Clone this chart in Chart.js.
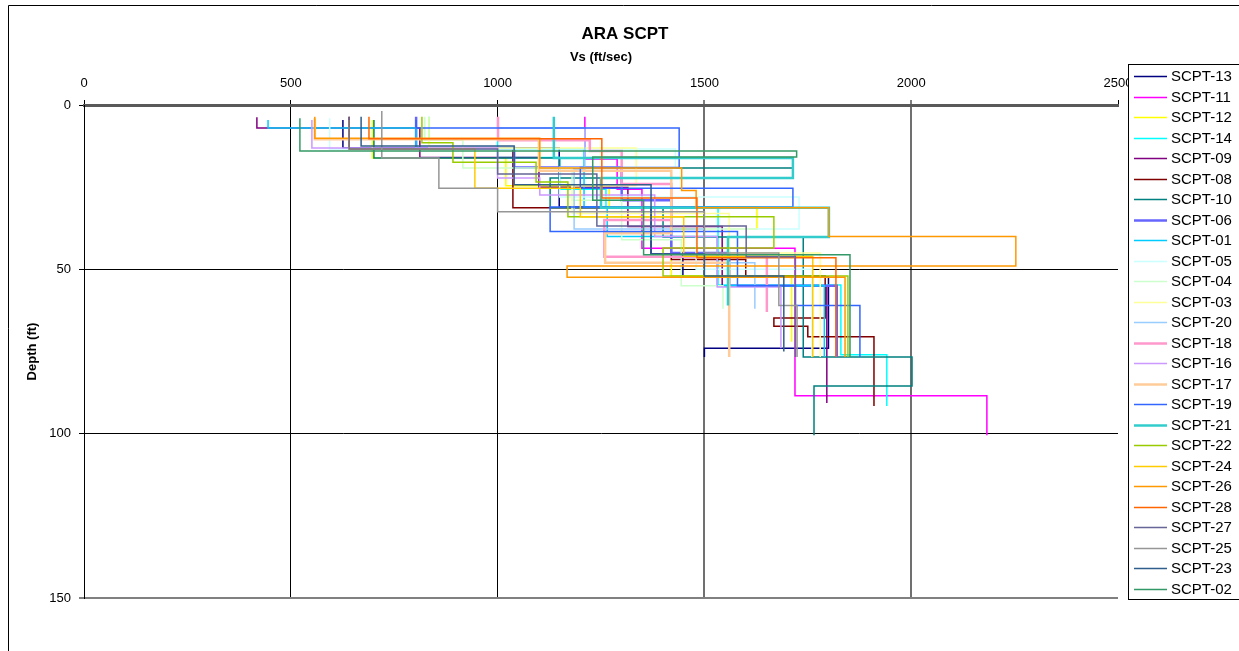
<!DOCTYPE html>
<html>
<head>
<meta charset="utf-8">
<title>ARA SCPT</title>
<script src="https://cdn.jsdelivr.net/npm/chart.js@4/dist/chart.umd.min.js"></script>
<style>
  html, body { margin: 0; padding: 0; background: #ffffff; overflow: hidden; }
  #wrap { width: 1239px; height: 651px; }
</style>
</head>
<body>
<div id="wrap"><canvas id="c" width="1239" height="651"></canvas></div>
<script>
// Axis ticks
const vsTicks = [0, 500, 1000, 1500, 2000, 2500];
const depthTicks = [0, 50, 100, 150];

// Sounding names, in legend order
const seriesNames = ['SCPT-13', 'SCPT-11', 'SCPT-12', 'SCPT-14', 'SCPT-09', 'SCPT-08', 'SCPT-10',
  'SCPT-06', 'SCPT-01', 'SCPT-05', 'SCPT-04', 'SCPT-03', 'SCPT-20', 'SCPT-18', 'SCPT-16',
  'SCPT-17', 'SCPT-19', 'SCPT-21', 'SCPT-22', 'SCPT-24', 'SCPT-26', 'SCPT-28', 'SCPT-27',
  'SCPT-25', 'SCPT-23', 'SCPT-02'];

// Layer boundaries (ft) and interval shear-wave velocity (ft/sec) for each sounding
const scpt13Depth = [4.6, 13.1, 31.0, 45.3, 52.3, 74.0, 76.7];
const scpt13Vs    = [626, 1149, 1371, 1448, 1800, 1500];
const scpt11Depth = [3.6, 16.4, 25.6, 43.6, 88.5, 100.5];
const scpt11Vs    = [1211, 1289, 1349, 1719, 2183];
const scpt12Depth = [4.6, 16.1, 24.6, 31.0, 37.7, 52.0, 72.0];
const scpt12Vs    = [697, 1020, 1270, 1627, 1420, 1711];
const scpt14Depth = [3.6, 10.4, 16.0, 25.6, 31.0, 54.8, 76.0, 91.6];
const scpt14Vs    = [834, 1000, 1150, 1262, 1533, 1830, 1941];
const scpt09Depth = [3.7, 7.0, 16.0, 25.0, 37.0, 55.0, 90.7];
const scpt09Vs    = [418, 812, 1100, 1315, 1543, 1796];
const scpt08Depth = [3.6, 13.4, 31.3, 47.0, 52.0, 64.8, 67.3, 70.5, 91.6];
const scpt08Vs    = [641, 1037, 1420, 1600, 1792, 1668, 1750, 1910];
const scpt10Depth = [4.6, 16.1, 19.2, 22.2, 31.3, 40.2, 76.7, 85.5, 100.5];
const scpt10Vs    = [701, 1150, 1714, 1127, 1400, 1739, 2002, 1765];
const scpt06Depth = [3.6, 13.1, 19.0, 29.0, 45.0, 55.0, 76.7];
const scpt06Vs    = [803, 1040, 1300, 1420, 1560, 1820];
const scpt01Depth = [4.6, 7.0, 13.3, 31.0, 40.0, 55.0, 76.7];
const scpt01Vs    = [445, 803, 1209, 1265, 1531, 1790];
const scpt05Depth = [4.0, 13.4, 19.0, 28.0, 37.7, 50.0, 76.7];
const scpt05Vs    = [594, 1430, 1150, 1729, 1480, 1760];
const scpt04Depth = [3.6, 10.7, 19.2, 29.0, 41.0, 55.0, 62.0];
const scpt04Vs    = [824, 916, 1180, 1300, 1444, 1545];
const scpt03Depth = [3.6, 13.1, 24.6, 33.0, 45.0, 76.7];
const scpt03Vs    = [834, 1335, 1180, 1560, 1780];
const scpt20Depth = [4.6, 7.0, 19.7, 37.7, 48.0, 62.0];
const scpt20Vs    = [1000, 1211, 1185, 1500, 1622];
const scpt18Depth = [3.6, 10.7, 14.0, 24.0, 35.0, 46.2, 63.0];
const scpt18Vs    = [1001, 1223, 1300, 1420, 1258, 1651];
const scpt16Depth = [4.6, 13.1, 22.2, 27.4, 40.0, 55.4, 74.0];
const scpt16Vs    = [551, 1000, 1102, 1380, 1531, 1685];
const scpt17Depth = [4.0, 10.4, 20.0, 39.0, 48.0, 76.7];
const scpt17Vs    = [558, 1100, 1420, 1260, 1560];
const scpt19Depth = [4.6, 7.0, 19.0, 25.3, 31.0, 38.5, 55.0, 61.0, 76.7];
const scpt19Vs    = [803, 1439, 1200, 1714, 1127, 1580, 1720, 1876];
const scpt21Depth = [3.6, 16.1, 22.2, 31.3, 40.2, 61.0];
const scpt21Vs    = [1136, 1714, 1250, 1801, 1557];
const scpt22Depth = [3.6, 11.5, 17.4, 23.4, 34.0, 43.5, 52.0, 76.7];
const scpt22Vs    = [817, 892, 1093, 1170, 1668, 1400, 1847];
const scpt24Depth = [4.6, 13.4, 25.3, 34.0, 46.0, 76.7];
const scpt24Vs    = [641, 945, 1200, 1450, 1762];
const scpt26Depth = [3.6, 10.1, 19.2, 26.0, 31.3, 40.0, 49.0, 52.4, 76.7];
const scpt26Vs    = [558, 1102, 1445, 1480, 1800, 2253, 1168, 1840];
const scpt28Depth = [3.6, 10.3, 28.3, 46.5, 76.7];
const scpt28Vs    = [689, 1252, 1482, 1818];
const scpt27Depth = [3.6, 13.4, 21.0, 36.8, 46.2, 76.7];
const scpt27Vs    = [641, 1000, 1240, 1601, 1720];
const scpt25Depth = [1.8, 16.1, 25.3, 32.5, 45.0, 61.0, 76.7];
const scpt25Vs    = [720, 858, 1000, 1500, 1680, 1724];
const scpt23Depth = [3.6, 12.5, 24.3, 45.3, 52.0, 75.0];
const scpt23Vs    = [670, 1040, 1371, 1500, 1692];
const scpt02Depth = [4.0, 14.0, 15.8, 29.0, 45.6, 76.7];
const scpt02Vs    = [522, 1723, 1230, 1353, 1852];

const profiles = [
  [scpt13Depth, scpt13Vs], [scpt11Depth, scpt11Vs], [scpt12Depth, scpt12Vs], [scpt14Depth, scpt14Vs],
  [scpt09Depth, scpt09Vs], [scpt08Depth, scpt08Vs], [scpt10Depth, scpt10Vs], [scpt06Depth, scpt06Vs],
  [scpt01Depth, scpt01Vs], [scpt05Depth, scpt05Vs], [scpt04Depth, scpt04Vs], [scpt03Depth, scpt03Vs],
  [scpt20Depth, scpt20Vs], [scpt18Depth, scpt18Vs], [scpt16Depth, scpt16Vs], [scpt17Depth, scpt17Vs],
  [scpt19Depth, scpt19Vs], [scpt21Depth, scpt21Vs], [scpt22Depth, scpt22Vs], [scpt24Depth, scpt24Vs],
  [scpt26Depth, scpt26Vs], [scpt28Depth, scpt28Vs], [scpt27Depth, scpt27Vs], [scpt25Depth, scpt25Vs],
  [scpt23Depth, scpt23Vs], [scpt02Depth, scpt02Vs]
];

// Line styling per sounding
const lineColors = ['#000080', '#FF00FF', '#FFFF00', '#00FFFF', '#800080', '#800000', '#008080',
  '#6666FF', '#00CCFF', '#CCFFFF', '#CCFFCC', '#FFFF99', '#99CCFF', '#FF99CC', '#CC99FF',
  '#FFCC99', '#3366FF', '#33CCCC', '#99CC00', '#FFCC00', '#FF9900', '#FF6600', '#666699',
  '#969696', '#2F5D8C', '#339966'];
const lineWidths = [1.5, 1.5, 1.5, 1.5, 1.5, 1.5, 1.5, 2.5, 1.5, 1.5, 1.5, 1.5, 1.5, 2.5, 1.5,
  2.5, 1.5, 2.5, 1.5, 1.5, 1.5, 1.5, 1.5, 1.5, 1.5, 1.5];

// Turn layered velocities into a stepped depth profile
function stepPoints(depths, vs) {
  const pts = [];
  for (let i = 0; i < vs.length; i++) {
    pts.push({ x: vs[i], y: depths[i] });
    pts.push({ x: vs[i], y: depths[i + 1] });
  }
  return pts;
}

const datasets = profiles.map((p, i) => ({
  label: seriesNames[i],
  data: stepPoints(p[0], p[1]),
  showLine: true,
  borderColor: lineColors[i],
  backgroundColor: lineColors[i],
  borderWidth: lineWidths[i],
  pointRadius: 0,
  pointHoverRadius: 0,
  fill: false,
  tension: 0,
  order: -i
}));

const FONT = "'Liberation Sans', Arial, sans-serif";

const frame = {
  id: 'frame',
  beforeDraw(chart) {
    const ctx = chart.ctx;
    ctx.save();
    ctx.fillStyle = '#ffffff';
    ctx.fillRect(0, 0, chart.width, chart.height);
    ctx.strokeStyle = '#000000';
    ctx.lineWidth = 1;
    ctx.beginPath();
    ctx.moveTo(8.5, chart.height);
    ctx.lineTo(8.5, 5.5);
    ctx.lineTo(chart.width, 5.5);
    ctx.stroke();
    ctx.fillStyle = '#000000';
    ctx.font = 'bold 17px ' + FONT;
    ctx.textAlign = 'center';
    ctx.textBaseline = 'middle';
    ctx.fillText('ARA SCPT', 625, 34);
    ctx.restore();
  },
  afterDraw(chart) {
    const ctx = chart.ctx;
    ctx.save();
    const bx = 1128.5, by = 64.5, bw = 130, bh = 535;
    ctx.fillStyle = '#ffffff';
    ctx.fillRect(bx, by, bw, bh);
    ctx.strokeStyle = '#000000';
    ctx.lineWidth = 1;
    ctx.strokeRect(bx, by, bw, bh);
    ctx.font = '15px ' + FONT;
    ctx.textAlign = 'left';
    ctx.textBaseline = 'middle';
    chart.data.datasets.forEach((ds, i) => {
      const y = 76 + i * 20.5;
      ctx.strokeStyle = ds.borderColor;
      ctx.lineWidth = ds.borderWidth;
      ctx.beginPath();
      ctx.moveTo(1134, Math.round(y) + 0.5);
      ctx.lineTo(1167, Math.round(y) + 0.5);
      ctx.stroke();
      ctx.fillStyle = '#000000';
      ctx.fillText(ds.label, 1171, y + 1);
    });
    ctx.restore();
  }
};

new Chart(document.getElementById('c'), {
  type: 'scatter',
  data: { datasets },
  plugins: [frame],
  options: {
    responsive: false,
    animation: false,
    devicePixelRatio: 1,
    layout: { padding: { left: 24.2, top: 49.2, right: 121, bottom: 53 } },
    plugins: {
      legend: { display: false },
      title: { display: false },
      tooltip: { enabled: false }
    },
    scales: {
      x: {
        type: 'linear',
        position: 'top',
        min: vsTicks[0],
        max: vsTicks[vsTicks.length - 1],
        afterBuildTicks: (s) => { s.ticks = vsTicks.map(v => ({ value: v })); },
        afterFit: (s) => { s.height = 55.8; },
        title: {
          display: true, text: 'Vs (ft/sec)', color: '#000',
          font: { family: FONT, size: 13, weight: 'bold' }, padding: 0
        },
        ticks: {
          color: '#000', font: { family: FONT, size: 13 }, padding: 9, maxRotation: 0,
          callback: (v) => String(v)
        },
        border: { display: true, color: '#595959', width: 3 },
        grid: {
          drawOnChartArea: true,
          tickLength: 5,
          tickColor: '#000',
          tickWidth: 1,
          color: (c) => {
            const v = c.tick && c.tick.value;
            if (v === 2500) return 'rgba(0,0,0,0)';
            if (v === 1500 || v === 2000) return '#707070';
            return '#000000';
          },
          lineWidth: (c) => {
            const v = c.tick && c.tick.value;
            return (v === 1500 || v === 2000) ? 2 : 1;
          }
        }
      },
      y: {
        type: 'linear',
        reverse: true,
        min: depthTicks[0],
        max: depthTicks[depthTicks.length - 1],
        afterBuildTicks: (s) => { s.ticks = depthTicks.map(v => ({ value: v })); },
        afterFit: (s) => { s.width = 59.8; },
        title: {
          display: true, text: 'Depth (ft)', color: '#000',
          font: { family: FONT, size: 13, weight: 'bold' }, padding: 0
        },
        ticks: {
          color: '#000', font: { family: FONT, size: 13 }, padding: 8,
          callback: (v) => String(v)
        },
        border: { display: true, color: '#000', width: 1 },
        grid: {
          drawOnChartArea: true,
          tickLength: 5,
          tickColor: '#000',
          tickWidth: 1,
          color: (c) => {
            const v = c.tick && c.tick.value;
            if (v === 0) return 'rgba(0,0,0,0)';
            if (v === 150) return '#808080';
            return '#000000';
          },
          lineWidth: (c) => {
            const v = c.tick && c.tick.value;
            return v === 150 ? 2 : 1;
          }
        }
      }
    }
  }
});
</script>
</body>
</html>
